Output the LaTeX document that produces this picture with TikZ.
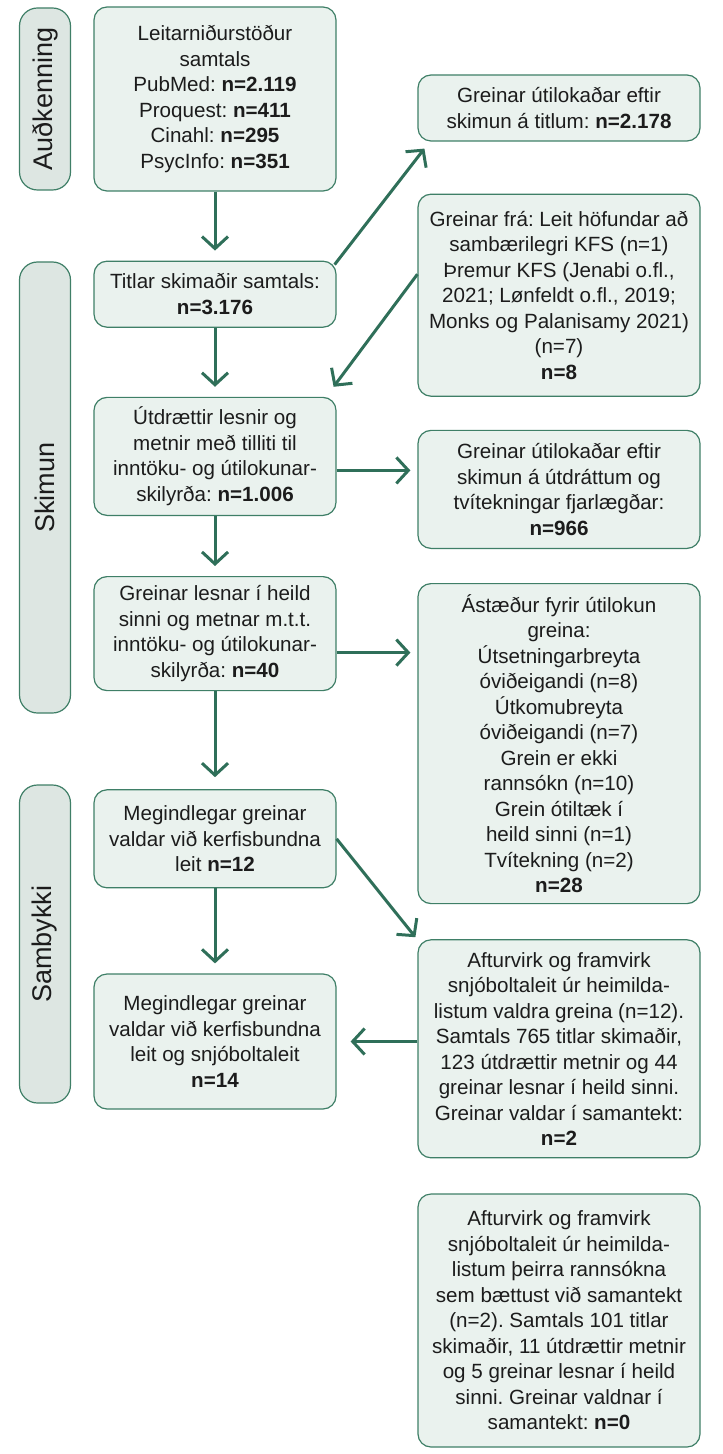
\documentclass[tikz,border=0pt]{standalone}
\usepackage{fontspec}
\setmainfont{Liberation Sans}
\usetikzlibrary{arrows.meta,positioning}
\definecolor{boxfill}{HTML}{EAF2EE}
\definecolor{boxline}{HTML}{3F7F67}
\definecolor{arrowgreen}{HTML}{2F6F59}
\definecolor{lanefill}{HTML}{DDE6E2}
\definecolor{inkgrey}{HTML}{1C1C1C}
\frenchspacing

\begin{document}
\begin{tikzpicture}[->,>={Straight Barb[length=6pt,width=13pt]},shorten >=5pt,
        box/.style={rectangle,rounded corners=6.5pt,draw=boxline,line width=0.6pt,fill=boxfill,
            text=inkgrey,align=center,inner sep=2pt,font=\fontsize{10.3}{12.75}\selectfont},
        lcol/.style={box,minimum width=121pt},
        rcol/.style={box,minimum width=141pt},
        lane/.style={rectangle,rounded corners=9pt,draw=boxline,line width=0.6pt,fill=lanefill,
            text=inkgrey,rotate=90,minimum height=25.5pt,font=\fontsize{13.5}{15}\selectfont}]

        \useasboundingbox (0,0) rectangle (361pt,-727pt);

        % phase labels
        \node[lane,minimum width=91pt] (idlane) at (22.5pt,-49.5pt) {Auðkenning};
        \node[lane,minimum width=225.5pt] (skimlane) at (22.5pt,-243.75pt) {Skimun};
        \node[lane,minimum width=159pt] (acclane) at (22.5pt,-472pt) {Sambykki};

        % main column
        \node[lcol,minimum height=92pt] (A) at (107.5pt,-49.5pt)
            {Leitarniðurstöður\\samtals\\PubMed: \textbf{n=2.119}\\Proquest: \textbf{n=411}\\Cinahl: \textbf{n=295}\\PsycInfo: \textbf{n=351}};
        \node[lcol,minimum height=33pt] (B) [below=34.5pt of A]
            {Titlar skimaðir samtals:\\\textbf{n=3.176}};
        \node[lcol,minimum height=59pt] (C) [below=34.5pt of B]
            {Útdrættir lesnir og\\metnir með tilliti til\\inntöku- og útilokunar-\\skilyrða: \textbf{n=1.006}};
        \node[lcol,minimum height=57pt] (D) [below=30pt of C]
            {Greinar lesnar í heild\\sinni og metnar m.t.t.\\inntöku- og útilokunar-\\skilyrða: \textbf{n=40}};
        \node[lcol,minimum height=49pt] (E) [below=49pt of D]
            {Megindlegar greinar\\valdar við kerfisbundna\\leit \textbf{n=12}};
        \node[lcol,minimum height=67.5pt] (F) [below=42.5pt of E]
            {Megindlegar greinar\\valdar við kerfisbundna\\leit og snjóboltaleit\\\textbf{n=14}};

        % side column
        \node[rcol,minimum height=33pt] (R1) at (279.5pt,-54pt)
            {Greinar útilokaðar eftir\\skimun á titlum: \textbf{n=2.178}};
        \node[rcol,minimum height=101pt] (R2) [below=26pt of R1]
            {Greinar frá: Leit höfundar að\\sambærilegri KFS (n=1)\\Þremur KFS (Jenabi o.fl.,\\2021; Lønfeldt o.fl., 2019;\\Monks og Palanisamy 2021)\\(n=7)\\\textbf{n=8}};
        \node[rcol,minimum height=59pt] (R3) [below=16.5pt of R2]
            {Greinar útilokaðar eftir\\skimun á útdráttum og\\tvítekningar fjarlægðar:\\\textbf{n=966}};
        \node[rcol,minimum height=160pt] (R4) [below=17pt of R3]
            {Ástæður fyrir útilokun\\greina:\\Útsetningarbreyta\\óviðeigandi (n=8)\\Útkomubreyta\\óviðeigandi (n=7)\\Grein er ekki\\rannsókn (n=10)\\Grein ótiltæk í\\heild sinni (n=1)\\Tvítekning (n=2)\\\textbf{n=28}};
        \node[rcol,minimum height=109pt] (R5) [below=17.5pt of R4]
            {Afturvirk og framvirk\\snjóboltaleit úr heimilda-\\listum valdra greina (n=12).\\Samtals 765 titlar skimaðir,\\123 útdrættir metnir og 44\\greinar lesnar í heild sinni.\\Greinar valdar í samantekt:\\\textbf{n=2}};
        \node[rcol,minimum height=126.5pt] (R6) [below=17.5pt of R5]
            {Afturvirk og framvirk\\snjóboltaleit úr heimilda-\\listum þeirra rannsókna\\sem bættust við samantekt\\(n=2). Samtals 101 titlar\\skimaðir, 11 útdrættir metnir\\og 5 greinar lesnar í heild\\sinni. Greinar valdnar í\\samantekt: \textbf{n=0}};

        % arrow ends
        \coordinate (b1) at ([shift={(-1pt,-2pt)}]B.north east);
        \coordinate (r1) at ([shift={(3.5pt,-3.5pt)}]R1.south west);
        \coordinate (r2) at ([yshift=10.5pt]R2.west);
        \coordinate (c0) at ([shift={(-1.5pt,5pt)}]C.north east);
        \coordinate (c3) at ([yshift=-7pt]C.east);
        \coordinate (d4) at ([yshift=-9.5pt]D.east);
        \coordinate (r5) at ([shift={(-1pt,1pt)}]R5.north west);
        \coordinate (f5) at (F.east -| R5.west);

        \path[color=arrowgreen,line width=1.5pt]
        (A) edge (B)
        (B) edge (C)
        (C) edge (D)
        (D) edge[shorten >=6pt] (E)
        (E) edge (F)
        (b1) edge[shorten >=0pt] (r1)
        (r2) edge[shorten >=0pt] (c0)
        (c3) edge[shorten >=3.5pt] (c3 -| R3.west)
        (d4) edge[shorten >=3.5pt] (d4 -| R4.west)
        (E.east) edge[shorten >=0pt] (r5)
        (f5) edge[shorten >=7pt] (F.east);

    \end{tikzpicture}
\end{document}
